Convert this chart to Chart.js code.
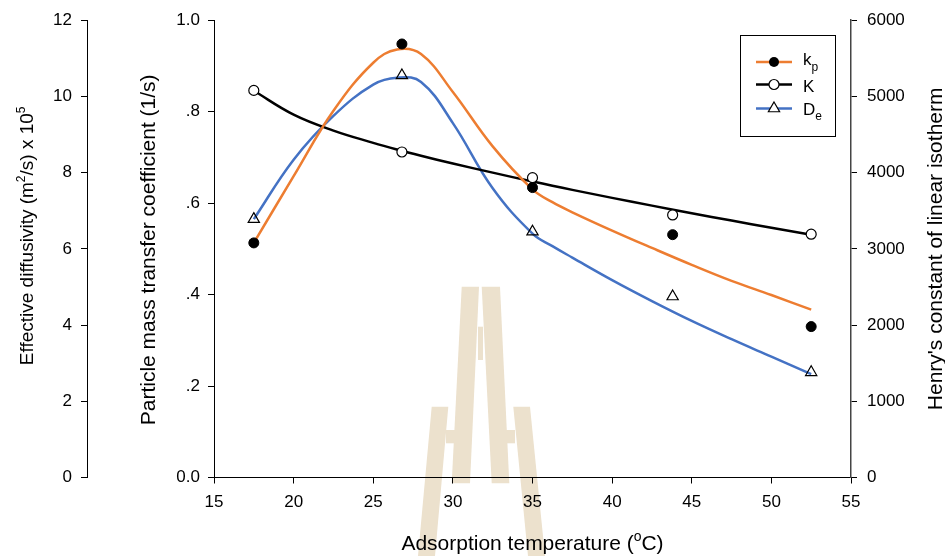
<!DOCTYPE html>
<html>
<head>
<meta charset="utf-8">
<script src="https://cdn.jsdelivr.net/npm/chart.js@4.4.1/dist/chart.umd.min.js"></script>
<style>
  html, body { margin: 0; padding: 0; background: #fff; }
  #wrap { width: 945px; height: 556px; }
</style>
</head>
<body>
<div id="wrap"><canvas id="chart" width="945" height="556"></canvas></div>
<script>
// measured points
const tempPoints = [17.5, 26.8, 35, 43.8, 52.5];
const kpPoints = [0.513, 0.948, 0.634, 0.531, 0.330];
const kPoints = [5079, 4271, 3934, 3445, 3192];
const dePoints = [6.78, 10.55, 6.45, 4.75, 2.76];

// fitted curves
const fitTemps = [17.5, 20, 22.5, 25, 26.5, 28, 30, 32.5, 35, 36.25, 37.5, 40, 42.5, 45, 47.5, 50, 52.5];
const kpFit = [0.513, 0.659, 0.802, 0.907, 0.936, 0.926, 0.843, 0.724, 0.630, 0.602, 0.580, 0.540, 0.502, 0.465, 0.430, 0.399, 0.367];
const kFit = [5074, 4761, 4552, 4391, 4303, 4222, 4120, 4000, 3884, 3829, 3774, 3669, 3567, 3468, 3371, 3276, 3185];
const deFit = [6.78, 8.34, 9.49, 10.31, 10.49, 10.38, 9.30, 7.59, 6.40, 6.07, 5.77, 5.18, 4.63, 4.11, 3.63, 3.17, 2.71];

const FONT = '"Liberation Sans", Arial, sans-serif';
const ORANGE = '#ED7D31';
const BLUE = '#4472C4';

function pairs(xs, ys) {
    return xs.map((x, i) => ({ x: x, y: ys[i] }));
}

// text with superscript / subscript pieces, centred on (x, y)
function drawRich(ctx, parts, size, x, y, angle) {
    const small = Math.round(size * 0.65);
    ctx.save();
    ctx.translate(x, y);
    ctx.rotate(angle);
    ctx.textAlign = 'left';
    ctx.textBaseline = 'alphabetic';
    ctx.fillStyle = '#000';
    let total = 0;
    parts.forEach(p => {
        ctx.font = (p[1] ? small : size) + 'px ' + FONT;
        total += ctx.measureText(p[0]).width;
    });
    let cx = -total / 2;
    parts.forEach(p => {
        ctx.font = (p[1] ? small : size) + 'px ' + FONT;
        let dy = size * 0.36;
        if (p[1] === 'sup') dy -= size * 0.42;
        if (p[1] === 'sub') dy += size * 0.25;
        ctx.fillText(p[0], cx, dy);
        cx += ctx.measureText(p[0]).width;
    });
    ctx.restore();
}

function drawMarker(ctx, kind, x, y) {
    ctx.save();
    ctx.lineWidth = 1.2;
    ctx.strokeStyle = '#000';
    ctx.beginPath();
    if (kind === 'dot') {
        ctx.arc(x, y, 5, 0, Math.PI * 2);
        ctx.fillStyle = '#000';
        ctx.fill();
    } else if (kind === 'ring') {
        ctx.arc(x, y, 5, 0, Math.PI * 2);
        ctx.fillStyle = '#fff';
        ctx.fill();
        ctx.stroke();
    } else {
        const r = 6.5;
        ctx.moveTo(x, y - r);
        ctx.lineTo(x + r * 0.866, y + r / 2);
        ctx.lineTo(x - r * 0.866, y + r / 2);
        ctx.closePath();
        ctx.fillStyle = '#fff';
        ctx.fill();
        ctx.stroke();
    }
    ctx.restore();
}

const decorPlugin = {
    id: 'decor',
    beforeDraw(chart) {
        const ctx = chart.ctx;
        ctx.save();
        ctx.fillStyle = '#fff';
        ctx.fillRect(0, 0, chart.width, chart.height);
        // pale emblem behind the plot
        ctx.fillStyle = '#ece1cd';
        const polys = [
            [[461.7, 286.7], [479, 286.7], [470, 483.3], [451.7, 483.3]],
            [[481.7, 286.7], [500, 286.7], [509.3, 483.3], [491.7, 483.3]],
            [[431.7, 406.7], [448.3, 406.7], [435, 556], [418, 556]],
            [[513.3, 406.7], [530, 406.7], [545, 556], [528, 556]]
        ];
        polys.forEach(p => {
            ctx.beginPath();
            ctx.moveTo(p[0][0], p[0][1]);
            for (let i = 1; i < p.length; i++) ctx.lineTo(p[i][0], p[i][1]);
            ctx.closePath();
            ctx.fill();
        });
        ctx.fillRect(478, 326.7, 5, 33.3);
        ctx.fillRect(446, 430, 12, 13.3);
        ctx.fillRect(503, 430, 12, 13.3);
        ctx.restore();
    },
    afterDraw(chart) {
        const ctx = chart.ctx;
        const area = chart.chartArea;
        const midY = (area.top + area.bottom) / 2;

        // axis titles
        drawRich(ctx, [['Effective diffusivity (m'], ['2', 'sup'], ['/s) x 10'], ['5', 'sup']], 19, 26, midY - 13, -Math.PI / 2);
        drawRich(ctx, [['Particle mass transfer coefficient (1/s)']], 21, 147, midY + 1, -Math.PI / 2);
        drawRich(ctx, [["Henry's constant of linear isotherm"]], 21, 934, midY, -Math.PI / 2);
        drawRich(ctx, [['Adsorption temperature ('], ['o', 'sup'], ['C)']], 21, (area.left + area.right) / 2, 542, 0);

        // legend
        ctx.save();
        ctx.strokeStyle = '#000';
        ctx.lineWidth = 1;
        ctx.strokeRect(740.5, 35.5, 95, 101);
        const rows = [
            { y: 62, color: ORANGE, marker: 'dot', text: [['k'], ['p', 'sub']], base: 65 },
            { y: 84.5, color: '#000', marker: 'ring', text: [['K']], base: 91.5 },
            { y: 108.5, color: BLUE, marker: 'tri', text: [['D'], ['e', 'sub']], base: 114.5 }
        ];
        rows.forEach(r => {
            ctx.strokeStyle = r.color;
            ctx.lineWidth = 2.5;
            ctx.beginPath();
            ctx.moveTo(756, r.y);
            ctx.lineTo(792, r.y);
            ctx.stroke();
            drawMarker(ctx, r.marker, 774, r.y);
            let tx = 803;
            ctx.fillStyle = '#000';
            ctx.textBaseline = 'alphabetic';
            ctx.textAlign = 'left';
            r.text.forEach(t => {
                ctx.font = (t[1] ? 12 : 17) + 'px ' + FONT;
                ctx.fillText(t[0], tx, r.base + (t[1] ? 5.5 : 0));
                tx += ctx.measureText(t[0]).width;
            });
        });
        ctx.restore();
    }
};

function fixWidth(w) {
    return scale => { scale.width = w; };
}

const tickFont = { family: FONT, size: 17 };

new Chart(document.getElementById('chart'), {
    type: 'line',
    data: {
        datasets: [
            { type: 'scatter', data: pairs(tempPoints, kpPoints), yAxisID: 'yKp', pointStyle: 'circle', pointRadius: 5, backgroundColor: '#000', borderColor: '#000', borderWidth: 1, order: 0 },
            { type: 'scatter', data: pairs(tempPoints, kPoints), yAxisID: 'yK', pointStyle: 'circle', pointRadius: 5, backgroundColor: '#fff', borderColor: '#000', borderWidth: 1.2, order: 0 },
            { type: 'scatter', data: pairs(tempPoints, dePoints), yAxisID: 'yDe', pointStyle: 'triangle', pointRadius: 6.5, backgroundColor: 'rgba(255,255,255,0)', borderColor: '#000', borderWidth: 1.2, order: 0 },
            { data: pairs(fitTemps, kpFit), yAxisID: 'yKp', borderColor: ORANGE, borderWidth: 2.5, pointRadius: 0, tension: 0.4, fill: false, order: 1 },
            { data: pairs(fitTemps, kFit), yAxisID: 'yK', borderColor: '#000', borderWidth: 2.5, pointRadius: 0, tension: 0.4, fill: false, order: 1 },
            { data: pairs(fitTemps, deFit), yAxisID: 'yDe', borderColor: BLUE, borderWidth: 2.5, pointRadius: 0, tension: 0.4, fill: false, order: 1 }
        ]
    },
    options: {
        responsive: false,
        animation: false,
        layout: { padding: { top: 17, left: 0, right: 0, bottom: 0 } },
        plugins: { legend: { display: false }, tooltip: { enabled: false } },
        scales: {
            x: {
                type: 'linear', position: 'bottom', min: 15, max: 55,
                afterFit: scale => { scale.height = 78.5; },
                ticks: { stepSize: 5, font: tickFont, color: '#000', padding: 9, maxRotation: 0 },
                grid: { drawOnChartArea: false, tickLength: 6, color: '#000' },
                border: { color: '#000', width: 1 }
            },
            yKp: {
                type: 'linear', position: 'left', min: 0, max: 1, weight: 0,
                afterFit: fixWidth(127),
                ticks: {
                    stepSize: 0.2, font: tickFont, color: '#000', padding: 8,
                    callback: v => v === 0 ? '0.0' : v === 1 ? '1.0' : v.toFixed(1).replace('0.', '.')
                },
                grid: { drawOnChartArea: false, tickLength: 6, color: '#000' },
                border: { color: '#000', width: 1 }
            },
            yDe: {
                type: 'linear', position: 'left', min: 0, max: 12, weight: 1,
                afterFit: fixWidth(87),
                ticks: { stepSize: 2, font: tickFont, color: '#000', padding: 9 },
                grid: { drawOnChartArea: false, tickLength: 6, color: '#000' },
                border: { color: '#000', width: 1 }
            },
            yK: {
                type: 'linear', position: 'right', min: 0, max: 6000,
                afterFit: fixWidth(94),
                ticks: { stepSize: 1000, font: tickFont, color: '#000', padding: 10, callback: v => String(v) },
                grid: { drawOnChartArea: false, tickLength: 6, color: '#000' },
                border: { color: '#444', width: 1.5 }
            }
        }
    },
    plugins: [decorPlugin]
});
</script>
</body>
</html>
